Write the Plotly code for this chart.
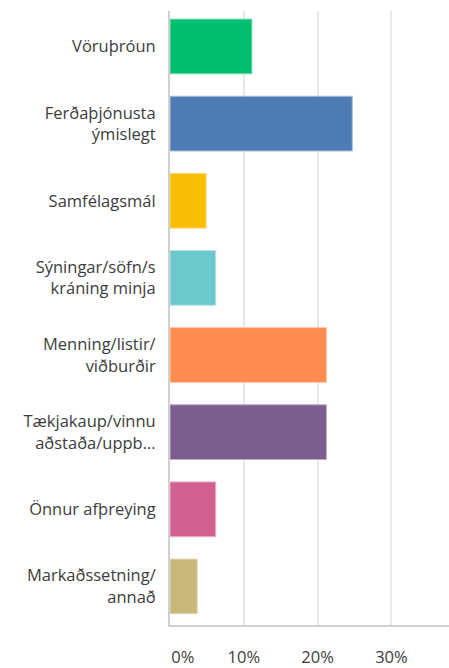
import plotly.graph_objects as go

categories = ["Vöruþróun", "Ferðaþjónusta<br>ýmislegt", "Samfélagsmál",
              "Sýningar/söfn/s<br>kráning minja", "Menning/listir/<br>viðburðir",
              "Tækjakaup/vinnu<br>aðstaða/uppb...", "Önnur afþreying",
              "Markaðssetning/<br>annað"]
values = [11.1, 24.7, 4.9, 6.2, 21.2, 21.2, 6.2, 3.7]
colors = ["#00BF6F", "#507CB6", "#F9BE00", "#6BC8CD", "#FF8B4F", "#7D5E90", "#D25F90", "#C7B879"]
line_colors = ["#7FDFB7", "#A7BDDA", "#FCDE7F", "#B5E3E6", "#FFC5A7", "#BEAEC7", "#E8AFC7", "#E3DBBC"]
tick_vals = [0, 10, 20, 30]
tick_text = ["\u00a0\u00a0\u00a0\u00a0\u00a0\u00a00%", "10%", "20%", "30%"]

fig = go.Figure(go.Bar(
    x=values, y=categories, orientation="h",
    marker=dict(color=colors, line=dict(color=line_colors, width=1)),
    width=0.71,
))

fig.update_layout(
    width=449, height=668,
    margin=dict(l=170, r=0, t=11, b=39),
    plot_bgcolor="white", paper_bgcolor="white",
    font=dict(family="Open Sans", size=16.5, color="#3d3d3d"),
    showlegend=False,
)
fig.update_xaxes(
    range=[0, 37.8], tickvals=tick_vals, ticktext=tick_text,
    showgrid=True, gridcolor="#e8e8e8", gridwidth=1.5,
    showline=True, linecolor="#d0d0d0", linewidth=2,
    zeroline=False, ticks="", ticklabelstandoff=16,
    tickfont=dict(size=16.5, color="#3d3d3d"),
)
fig.update_yaxes(
    type="category", range=[7.5, -0.46],
    showline=True, linecolor="#d0d0d0", linewidth=2,
    showgrid=False, ticks="", ticklabelstandoff=9,
    tickfont=dict(size=16.5, color="#3d3d3d"),
)

fig.write_html(
    "out.html",
    config={"displayModeBar": False},
    post_script="document.body.style.margin='0';document.body.style.overflow='hidden';",
)
